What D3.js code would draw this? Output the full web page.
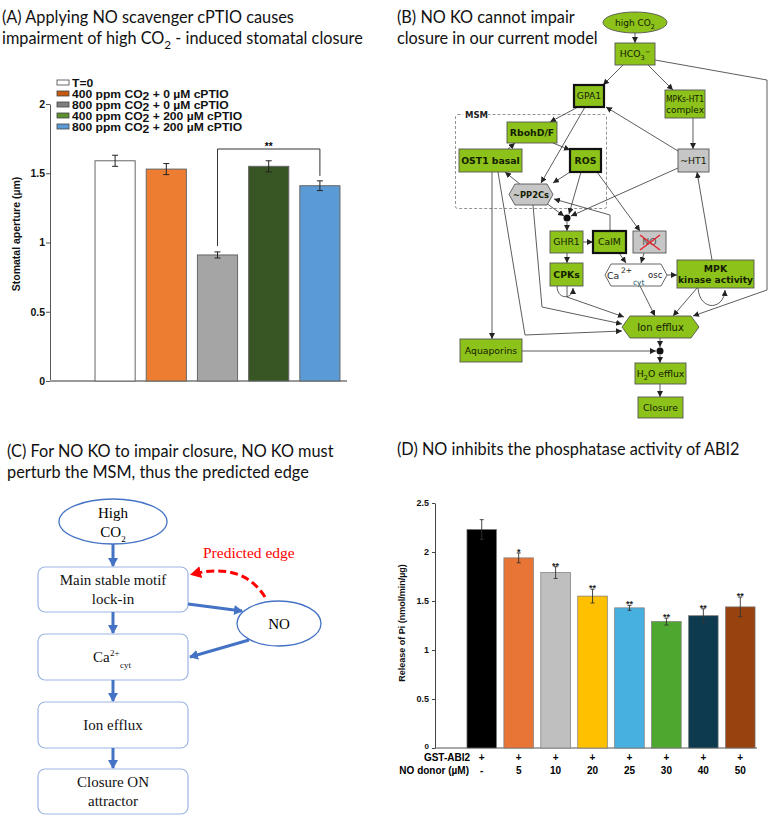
<!DOCTYPE html>
<html><head><meta charset="utf-8">
<script src="https://cdn.jsdelivr.net/npm/d3@7"></script>
<style>body{margin:0;background:#fff}svg{display:block}</style>
</head><body>
<script>
// ---------- Panel A data ----------
const aCategories = ["T=0","400 ppm CO2 + 0 µM cPTIO","800 ppm CO2 + 0 µM cPTIO","400 ppm CO2 + 200 µM cPTIO","800 ppm CO2 + 200 µM cPTIO"];
const aValues = [1.59, 1.53, 0.91, 1.55, 1.41];
const aErrors = [0.04, 0.04, 0.022, 0.04, 0.035];
const aTicks = [0, 0.5, 1, 1.5, 2];
const aTickLabels = ["0", "0.5", "1", "1.5", "2"];
const aSignif = "**";
// ---------- Panel D data ----------
const dGst = ["+","+","+","+","+","+","+","+"];
const dDonor = ["-","5","10","20","25","30","40","50"];
const dValues = [2.23, 1.94, 1.79, 1.55, 1.43, 1.29, 1.35, 1.44];
const dErrors = [0.10, 0.05, 0.06, 0.07, 0.025, 0.035, 0.07, 0.10];
const dStars = ["", "*", "**", "**", "**", "**", "**", "**"];
const dTicks = [0, 0.5, 1, 1.5, 2, 2.5];
const dTickLabels = ["0", "0.5", "1", "1.5", "2", "2.5"];

// ---------- styles ----------
const aColors = ["#FFFFFF","#ED7D31","#A5A5A5","#375623","#5B9BD5"];
const aLegendColors = ["#FFFFFF","#C55A11","#808080","#5E8F2E","#5B9BD5"];
const dColors = ["#000000","#E87536","#BFBFBF","#FFC000","#47B0E0","#4EA72E","#0E3A50","#97420F"];
const titleFont = "Lato, 'Open Sans', sans-serif";
const arial = "'Liberation Sans', Arial, sans-serif";
const serif = "'Liberation Serif', 'Times New Roman', serif";
const diaFont = "'DejaVu Sans', Verdana, sans-serif";

const svg = d3.select("body").append("svg").attr("width", 771).attr("height", 816);
const defs = svg.append("defs");
defs.append("marker").attr("id","arrB").attr("markerUnits","userSpaceOnUse")
  .attr("markerWidth",7).attr("markerHeight",7).attr("refX",6).attr("refY",3).attr("orient","auto")
  .append("path").attr("d","M0,0 L6,3 L0,6 Z").attr("fill","#222");
defs.append("marker").attr("id","arrC").attr("markerUnits","userSpaceOnUse")
  .attr("markerWidth",12).attr("markerHeight",12).attr("refX",8).attr("refY",5).attr("orient","auto")
  .append("path").attr("d","M0,0 L9,5 L0,10 Z").attr("fill","#4472C4");
defs.append("marker").attr("id","arrR").attr("markerUnits","userSpaceOnUse")
  .attr("markerWidth",14).attr("markerHeight",14).attr("refX",8).attr("refY",6).attr("orient","auto")
  .append("path").attr("d","M0,0 L11,6 L0,12 Z").attr("fill","#FF0000");

function title(lines, x, y0, dy) {
  lines.forEach((segs, i) => {
    const t = svg.append("text").attr("x", x).attr("y", y0 + i*dy)
      .attr("font-family", titleFont).attr("font-size", 16.3).attr("fill", "#111");
    rich(t, segs, 16.3);
  });
}
function rich(sel, segs, size) {
  if (typeof segs === "string") { sel.text(segs); return; }
  let cur = 0;
  segs.forEach(s => {
    const shift = s.sub ? size*0.32 : s.sup ? -size*0.42 : 0;
    const tp = sel.append("tspan").attr("dy", shift - cur).text(s.t);
    if (s.sub || s.sup) tp.attr("font-size", size*(s.scale || 0.72));
    cur = shift;
  });
}

// ================= Panel A =================
title([ "(A) Applying NO scavenger cPTIO causes",
  [{t:"impairment of high CO"},{t:"2",sub:true},{t:" - induced stomatal closure"}] ], 2, 23, 21);

const gA = svg.append("g");
const yA = d3.scaleLinear().domain([0, 2]).range([381, 104]);
const xA = d3.scaleBand().domain(d3.range(aValues.length)).range([89.5, 345.5]).paddingInner(0.216).paddingOuter(0.108);

const axA = gA.append("g").attr("transform","translate(50,0)")
  .call(d3.axisLeft(yA).tickValues(aTicks).tickSize(4).tickSizeOuter(0).tickFormat((d,i)=>aTickLabels[i]));
axA.select(".domain").attr("stroke","#555").attr("stroke-width",1);
axA.selectAll(".tick line").attr("stroke","#555");
axA.selectAll(".tick text").attr("font-family", arial).attr("font-weight","bold").attr("font-size",10.5).attr("fill","#111").attr("x",-5);
gA.append("line").attr("x1",50).attr("x2",347).attr("y1",yA(0)).attr("y2",yA(0)).attr("stroke","#999").attr("stroke-width",2);

gA.selectAll(".barA").data(aValues).join("rect")
  .attr("x",(d,i)=>xA(i)).attr("width",xA.bandwidth())
  .attr("y",d=>yA(d)).attr("height",d=>yA(0)-yA(d))
  .attr("fill",(d,i)=>aColors[i]).attr("stroke","#666").attr("stroke-width",1);
aValues.forEach((v,i)=>{
  const cx = xA(i)+xA.bandwidth()/2, e = aErrors[i];
  gA.append("path").attr("d",`M${cx},${yA(v+e)}V${yA(v-e)}M${cx-3},${yA(v+e)}H${cx+3}M${cx-3},${yA(v-e)}H${cx+3}`)
    .attr("stroke","#222").attr("stroke-width",1).attr("fill","none");
});
// significance bracket
{
  const x1 = xA(2)+xA.bandwidth()/2, x2 = xA(4)+xA.bandwidth()/2, yb = yA(1.675);
  gA.append("path").attr("d",`M${x1},${yA(aValues[2]+aErrors[2])-6}V${yb}H${x2}V${yA(aValues[4]+aErrors[4])-5}`)
    .attr("stroke","#333").attr("stroke-width",1).attr("fill","none");
  gA.append("text").attr("x",(x1+x2)/2).attr("y",yb+1).attr("text-anchor","middle")
    .attr("font-family",arial).attr("font-size",10).attr("font-weight","bold").text(aSignif);
}
// y label
gA.append("text").attr("transform","translate(20,234) rotate(-90)").attr("text-anchor","middle")
  .attr("font-family",arial).attr("font-weight","bold").attr("font-size",10.5).attr("fill","#111")
  .text("Stomatal aperture (µm)");
// legend
aCategories.forEach((c,i)=>{
  const y = 82.5 + i*11;
  gA.append("rect").attr("x",57).attr("y",y-2.5).attr("width",12).attr("height",5)
    .attr("fill",aLegendColors[i]).attr("stroke","#444").attr("stroke-width",0.8);
  const t = gA.append("text").attr("x",72).attr("y",y+4).attr("font-family",arial)
    .attr("font-weight","bold").attr("font-size",11).attr("fill","#111");
  const m = c.match(/^(.*CO)2(.*)$/);
  if (m) {
    t.append("tspan").text(m[1]);
    t.append("tspan").attr("dy",2).text("2");
    t.append("tspan").attr("dy",-2).text(m[2]);
  } else t.text(c);
  const L = t.node().getComputedTextLength();
  t.attr("textLength", L*1.1).attr("lengthAdjust","spacingAndGlyphs");
});

// ================= Panel B =================
title(["(B) NO KO cannot impair","closure in our current model"], 397, 23, 21);
const gB = svg.append("g");
const green = "#8CC21A", grey = "#C6C6C6";
// MSM box
gB.append("rect").attr("x",455.5).attr("y",114.5).attr("width",151).attr("height",94).attr("rx",2)
  .attr("fill","none").attr("stroke","#888").attr("stroke-dasharray","3,2").attr("stroke-width",0.9);
gB.append("rect").attr("x",463).attr("y",110).attr("width",25).attr("height",9).attr("fill","#fff");
gB.append("text").attr("x",465).attr("y",118).attr("font-family",diaFont).attr("font-weight","bold")
  .attr("font-size",8.5).attr("fill","#222").text("MSM");

const bEdges = [
 [[635,32],[635,43]],
 [[623,65],[603,85]],
 [[648,65],[673,90]],
 [[655,60],[767,80],[767,290],[693,316]],
 [[693,118],[693,149]],
 [[678,151],[606,107]],
 [[678,168],[571,216]],
 [[578,107],[550,122]],
 [[585,107],[541,183]],
 [[553,143],[570,150]],
 [[508,149],[515,143]],
 [[521,185],[505,172]],
 [[570,172],[553,183]],
 [[581,172],[569,214]],
 [[597,172],[640,231]],
 [[546,203],[564,216]],
 [[610,231],[610,215],[554,199]],
 [[567,222],[567,231]],
 [[583,242],[593,242]],
 [[567,253],[567,263]],
 [[619,253],[626,263]],
 [[644,253],[641,263]],
 [[667,275],[677,275]],
 [[567,286],[567,297],[624,317]],
 [[640,286],[655,316]],
 [[697,288],[673,316]],
 [[712,260],[697,172]],
 [[492,172],[492,339]],
 [[498,172],[525,335],[622,331]],
 [[533,205],[542,307],[622,324]],
 [[660,338],[660,347]],
 [[522,351],[656,351]],
 [[660,355],[660,363]],
 [[660,384],[660,397]]
];
const line = d3.line();
gB.selectAll(".edge").data(bEdges).join("path").attr("d",d=>line(d))
  .attr("fill","none").attr("stroke","#333").attr("stroke-width",0.8).attr("marker-end","url(#arrB)");
gB.append("path").attr("d","M557,286 C557,300 573,300 573,288").attr("fill","none").attr("stroke","#333").attr("stroke-width",0.8).attr("marker-end","url(#arrB)");
gB.append("path").attr("d","M698,288 C700,312 724,310 725,290").attr("fill","none").attr("stroke","#333").attr("stroke-width",0.8).attr("marker-end","url(#arrB)");
[[567,218],[660,351]].forEach(p=>gB.append("circle").attr("cx",p[0]).attr("cy",p[1]).attr("r",3.5).attr("fill","#111"));

const bNodes = [
 {label:[{t:"high CO"},{t:"2",sub:true}], shape:"ellipse", x:603, y:12, w:64, h:21, fill:green, fs:9},
 {label:[{t:"HCO"},{t:"3",sub:true},{t:"−",sup:true}], shape:"rect", x:615, y:43, w:40, h:22, fill:green},
 {label:"GPA1", shape:"rect", x:574, y:85, w:30, h:22, fill:green, thick:true},
 {label:["MPKs-HT1","complex"], shape:"rect", x:665, y:90, w:40, h:28, fill:green},
 {label:"RbohD/F", shape:"rect", x:507, y:122, w:50, h:21, fill:green, bold:true},
 {label:"OST1 basal", shape:"rect", x:459, y:149, w:63, h:23, fill:green, bold:true},
 {label:"ROS", shape:"rect", x:570, y:149, w:31, h:23, fill:green, thick:true, bold:true},
 {label:"~HT1", shape:"rect", x:678, y:149, w:31, h:23, fill:grey},
 {label:"~PP2Cs", shape:"hex", x:509, y:184, w:44, h:21, fill:grey, bold:true},
 {label:"GHR1", shape:"rect", x:550, y:231, w:33, h:22, fill:green},
 {label:"CalM", shape:"rect", x:593, y:231, w:33, h:22, fill:green, thick:true},
 {label:"NO", shape:"rect", x:633, y:231, w:33, h:22, fill:grey, cross:true},
 {label:"CPKs", shape:"rect", x:550, y:263, w:33, h:23, fill:green, bold:true},
 {label:null, shape:"hex", x:605, y:264, w:62, h:22, fill:"#fff"},
 {label:["MPK","kinase activity"], shape:"rect", x:677, y:260, w:77, h:28, fill:green, bold:true},
 {label:"Ion efflux", shape:"hex", x:622, y:316, w:77, h:22, fill:green, hexd:8, fs:10},
 {label:"Aquaporins", shape:"rect", x:460, y:339, w:62, h:23, fill:green},
 {label:[{t:"H"},{t:"2",sub:true},{t:"O efflux"}], shape:"rect", x:635, y:363, w:51, h:21, fill:green},
 {label:"Closure", shape:"rect", x:638, y:397, w:45, h:21, fill:green}
];
bNodes.forEach(n=>{
  let s;
  const sw = n.thick ? 2.2 : 0.9, sc = n.thick ? "#111" : "#555";
  if (n.shape==="rect") s = gB.append("rect").attr("x",n.x).attr("y",n.y).attr("width",n.w).attr("height",n.h);
  else if (n.shape==="ellipse") s = gB.append("ellipse").attr("cx",n.x+n.w/2).attr("cy",n.y+n.h/2).attr("rx",n.w/2).attr("ry",n.h/2);
  else { const d = n.hexd||6, cy = n.y+n.h/2;
    s = gB.append("polygon").attr("points",[[n.x,cy],[n.x+d,n.y],[n.x+n.w-d,n.y],[n.x+n.w,cy],[n.x+n.w-d,n.y+n.h],[n.x+d,n.y+n.h]].join(" ")); }
  s.attr("fill",n.fill).attr("stroke",sc).attr("stroke-width",sw);
  if (n.label) {
    const fs = n.fs || 9.3;
    const lines = Array.isArray(n.label) && typeof n.label[0]==="string" ? n.label : [n.label];
    lines.forEach((l,i)=>{
      const t = gB.append("text").attr("x",n.x+n.w/2).attr("y",n.y+n.h/2+fs*0.37+(i-(lines.length-1)/2)*10.5)
        .attr("text-anchor","middle").attr("font-family",diaFont).attr("font-size",fs)
        .attr("font-weight",n.bold?"bold":"normal").attr("fill",n.cross?"#555":"#142000");
      rich(t,l,fs);
      const avail = (n.shape==="hex" ? n.w-8 : n.w-2);
      if (t.node().getComputedTextLength() > avail) t.attr("textLength",avail).attr("lengthAdjust","spacingAndGlyphs");
    });
  }
  if (n.cross) {
    gB.append("path").attr("d",`M${n.x+7},${n.y+4}L${n.x+n.w-6},${n.y+n.h-3}M${n.x+n.w-6},${n.y+4}L${n.x+7},${n.y+n.h-3}`)
      .attr("stroke","#E8202A").attr("stroke-width",1.4);
  }
});
// Ca2+ cyt osc label
gB.append("text").attr("x",607).attr("y",279).attr("font-family",diaFont).attr("font-size",9.3).attr("fill","#222").text("Ca");
gB.append("text").attr("x",621).attr("y",273).attr("font-family",diaFont).attr("font-size",7.5).attr("fill","#222").text("2+");
gB.append("text").attr("x",633).attr("y",284.5).attr("font-family",diaFont).attr("font-size",7.5).attr("fill","#1a5a6a").text("cyt");
gB.append("text").attr("x",648).attr("y",278).attr("font-family",diaFont).attr("font-size",8.5).attr("fill","#222").text("osc");

// ================= Panel C =================
title(["(C) For NO KO to impair closure, NO KO must","perturb the MSM, thus the predicted edge"], 7, 457, 21);
const gC = svg.append("g");
const blue = "#4472C4", boxStroke = "#9DB5E3";
const cBoxes = [
  {y:567, h:45, lines:["Main stable motif","lock-in"]},
  {y:634, h:46, lines:null},
  {y:702, h:46, lines:["Ion efflux"]},
  {y:769, h:45, lines:["Closure ON","attractor"]}
];
gC.append("ellipse").attr("cx",113).attr("cy",521.5).attr("rx",54).attr("ry",22.5).attr("fill","#fff").attr("stroke",blue).attr("stroke-width",1.3);
gC.append("text").attr("x",113).attr("y",518).attr("text-anchor","middle").attr("font-family",serif).attr("font-size",15).text("High");
{ const t = gC.append("text").attr("x",113).attr("y",537).attr("text-anchor","middle").attr("font-family",serif).attr("font-size",15);
  rich(t,[{t:"CO"},{t:"2",sub:true,scale:0.6}],15); }
cBoxes.forEach(b=>{
  gC.append("rect").attr("x",38).attr("y",b.y).attr("width",150).attr("height",b.h).attr("rx",7)
    .attr("fill","#fff").attr("stroke",boxStroke).attr("stroke-width",1.2);
  if (b.lines) b.lines.forEach((l,i)=>{
    gC.append("text").attr("x",113).attr("y",b.y+b.h/2+5+(i-(b.lines.length-1)/2)*18.5).attr("text-anchor","middle")
      .attr("font-family",serif).attr("font-size",15).attr("fill","#111").text(l);
  });
});
gC.append("text").attr("x",93).attr("y",662).attr("font-family",serif).attr("font-size",15).attr("fill","#111").text("Ca");
gC.append("text").attr("x",110).attr("y",656).attr("font-family",serif).attr("font-size",9).attr("fill","#111").text("2+");
gC.append("text").attr("x",120).attr("y",668).attr("font-family",serif).attr("font-size",9).attr("fill","#111").text("cyt");
// NO ellipse
gC.append("ellipse").attr("cx",279).attr("cy",623.5).attr("rx",42).attr("ry",22.5).attr("fill","#fff").attr("stroke",blue).attr("stroke-width",1.3);
gC.append("text").attr("x",279).attr("y",629).attr("text-anchor","middle").attr("font-family",serif).attr("font-size",15).text("NO");
// arrows
const cArrows = [[[113,544],[113,566]],[[113,612],[113,633]],[[113,680],[113,701]],[[113,748],[113,768]],[[188,604],[242,611]],[[249,640],[190,657]]];
gC.selectAll(".carr").data(cArrows).join("path").attr("d",d=>line(d)).attr("stroke",blue).attr("stroke-width",3).attr("fill","none").attr("marker-end","url(#arrC)");
gC.append("path").attr("d","M265,597 Q243,562 193,574").attr("fill","none").attr("stroke","#FF0000").attr("stroke-width",3)
  .attr("stroke-dasharray","8,4").attr("marker-end","url(#arrR)");
gC.append("text").attr("x",203).attr("y",558).attr("font-family",serif).attr("font-size",15.5).attr("fill","#FF0000").text("Predicted edge");

// ================= Panel D =================
title(["(D) NO inhibits the phosphatase activity of ABI2"], 397, 455, 21);
const gD = svg.append("g");
const yD = d3.scaleLinear().domain([0, 2.5]).range([748, 503]);
const xD = d3.scaleBand().domain(d3.range(dValues.length)).range([463.25, 758.75]).paddingInner(0.2).paddingOuter(0.1);
const axD = gD.append("g").attr("transform","translate(435,0)")
  .call(d3.axisLeft(yD).tickValues(dTicks).tickSize(3).tickSizeOuter(0).tickFormat((d,i)=>dTickLabels[i]));
axD.select(".domain").attr("stroke","#444").attr("stroke-width",1);
axD.selectAll(".tick line").attr("stroke","#444");
axD.selectAll(".tick text").attr("font-family",arial).attr("font-weight","bold").attr("font-size",9).attr("fill","#111").attr("x",-6);
axD.selectAll(".tick text").filter(d=>d===0).attr("font-size",8).attr("dy","0.1em");
gD.append("line").attr("x1",435).attr("x2",757).attr("y1",748).attr("y2",748).attr("stroke","#555").attr("stroke-width",1);
gD.selectAll(".barD").data(dValues).join("rect")
  .attr("x",(d,i)=>xD(i)).attr("width",xD.bandwidth()).attr("y",d=>yD(d)).attr("height",d=>yD(0)-yD(d))
  .attr("fill",(d,i)=>dColors[i]).attr("stroke","#777").attr("stroke-width",0.7);
dValues.forEach((v,i)=>{
  const cx = xD(i)+xD.bandwidth()/2, e = dErrors[i];
  gD.append("path").attr("d",`M${cx},${yD(v+e)}V${yD(v-e)}M${cx-2},${yD(v+e)}H${cx+2}M${cx-2},${yD(v-e)}H${cx+2}`)
    .attr("stroke","#333").attr("stroke-width",0.9).attr("fill","none");
  if (dStars[i]) gD.append("text").attr("x",cx).attr("y",yD(v+e)+2).attr("text-anchor","middle")
    .attr("font-family",arial).attr("font-size",9).attr("font-weight","bold").attr("fill","#222").text(dStars[i]);
  gD.append("text").attr("x",cx).attr("y",761).attr("text-anchor","middle").attr("font-family",arial)
    .attr("font-weight","bold").attr("font-size",10).text(dGst[i]);
  gD.append("text").attr("x",cx).attr("y",774).attr("text-anchor","middle").attr("font-family",arial)
    .attr("font-weight","bold").attr("font-size",10).text(dDonor[i]);
});
gD.append("text").attr("x",470).attr("y",761).attr("text-anchor","end").attr("font-family",arial).attr("font-weight","bold").attr("font-size",10).text("GST-ABI2");
gD.append("text").attr("x",469).attr("y",774).attr("text-anchor","end").attr("font-family",arial).attr("font-weight","bold").attr("font-size",10).text("NO donor (µM)");
gD.append("text").attr("transform","translate(405,623) rotate(-90)").attr("text-anchor","middle")
  .attr("font-family",arial).attr("font-weight","bold").attr("font-size",9).attr("fill","#111").text("Release of Pi (nmol/min/µg)");
</script>
</body></html>
